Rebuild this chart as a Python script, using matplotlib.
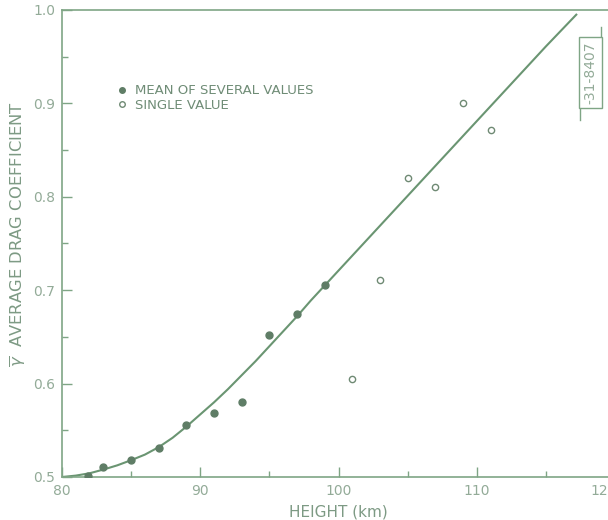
import matplotlib
matplotlib.use("Agg")
import matplotlib.pyplot as plt
from matplotlib.ticker import MultipleLocator
from matplotlib.lines import Line2D
from matplotlib.transforms import ScaledTranslation

plt.rcParams['font.family'] = ['DejaVu Sans']

# Data
mean_height = [81.9, 83.0, 85.0, 87.0, 89.0, 91.0, 93.0, 95.0, 97.0, 99.0]
mean_coef   = [0.501, 0.511, 0.518, 0.531, 0.556, 0.569, 0.580, 0.652, 0.674, 0.706]

single_height = [101.0, 103.0, 105.0, 107.0, 109.0, 111.0]
single_coef   = [0.605, 0.711, 0.820, 0.811, 0.900, 0.871]

curve_height = [80, 81, 82, 83, 84, 85, 86, 87, 88, 89, 90, 91, 92, 93, 94, 95,
                96, 97, 98, 99, 100, 105, 110, 115, 117.2]
curve_coef   = [0.500, 0.5015, 0.504, 0.508, 0.5125, 0.518, 0.524, 0.532, 0.542,
                0.554, 0.567, 0.580, 0.594, 0.609, 0.624, 0.640, 0.656, 0.672,
                0.689, 0.705, 0.721, 0.801, 0.881, 0.961, 0.995]

x_ticks = [80, 90, 100, 110, 120]
y_ticks = [0.5, 0.6, 0.7, 0.8, 0.9, 1.0]

axis_col = '#7fa585'
text_col = '#93ab98'
line_col = '#6a9572'
dot_col = '#5f7d66'
label_col = '#7d9a84'

fig = plt.figure(figsize=(6.08, 5.2), dpi=100)
ax = fig.add_axes([62/608, 43/520, 553/608, 467/520])

ax.plot(curve_height, curve_coef, color=line_col, lw=1.5, zorder=2)
ax.plot(mean_height, mean_coef, 'o', color=dot_col, ms=5.0, mec=dot_col, zorder=3)
ax.plot(single_height, single_coef, 'o', mfc='white', mec='#6f8a74', mew=1.0, ms=4.5, zorder=3)

ax.set_xlim(80, 120)
ax.set_ylim(0.5, 1.0)
ax.set_xticks(x_ticks)
ax.set_yticks(y_ticks)
ax.set_xticklabels([str(t) for t in x_ticks])
ax.set_yticklabels([f"{t:.1f}" for t in y_ticks])
ax.xaxis.set_minor_locator(MultipleLocator(5))
ax.yaxis.set_minor_locator(MultipleLocator(0.05))
ax.tick_params(which='major', direction='in', length=7, width=1.0, color=axis_col,
               labelcolor=text_col, labelsize=10, pad=5)
ax.tick_params(which='minor', direction='in', length=4.5, width=1.0, color=axis_col)
for s in ax.spines.values():
    s.set_color(axis_col)
    s.set_linewidth(1.2)

# the last x tick label sits a little left of its tick in the reference
last = ax.get_xticklabels()[-1]
last.set_transform(last.get_transform() + ScaledTranslation(-11/100, 0, fig.dpi_scale_trans))

ax.set_xlabel('HEIGHT (km)', color=label_col, fontsize=11, labelpad=5)
ax.set_ylabel(r'$\overline{\gamma}$  AVERAGE DRAG COEFFICIENT', color=label_col,
              fontsize=11.8)
ax.yaxis.set_label_coords(-0.064, 0.52)

handles = [Line2D([], [], marker='o', ls='none', color=dot_col, ms=4),
           Line2D([], [], marker='o', ls='none', mfc='white', mec='#6f8a74', mew=1.0, ms=4)]
leg = ax.legend(handles, ['MEAN OF SEVERAL VALUES', 'SINGLE VALUE'],
                loc='upper left', bbox_to_anchor=(0.077, 0.866), frameon=False,
                handlelength=0.8, handletextpad=0.6, labelspacing=0.1, fontsize=9.5)
for t in leg.get_texts():
    t.set_color('#6f8c76')

# Figure identifier label at the right edge
fig.text(590.5/608, 1 - 72.5/520, '-31-8407', rotation=90, ha='center', va='center',
         color=text_col, fontsize=10,
         bbox=dict(boxstyle='square,pad=0.3', fc='white', ec=axis_col, lw=1.0))
fig.add_artist(Line2D([600.5/608, 600.5/608], [1 - 27/520, 1 - 38/520], color=axis_col, lw=1.0))
fig.add_artist(Line2D([580/608, 580/608], [1 - 107/520, 1 - 120/520], color=axis_col, lw=1.0))

fig.savefig('out.png', dpi=100)
